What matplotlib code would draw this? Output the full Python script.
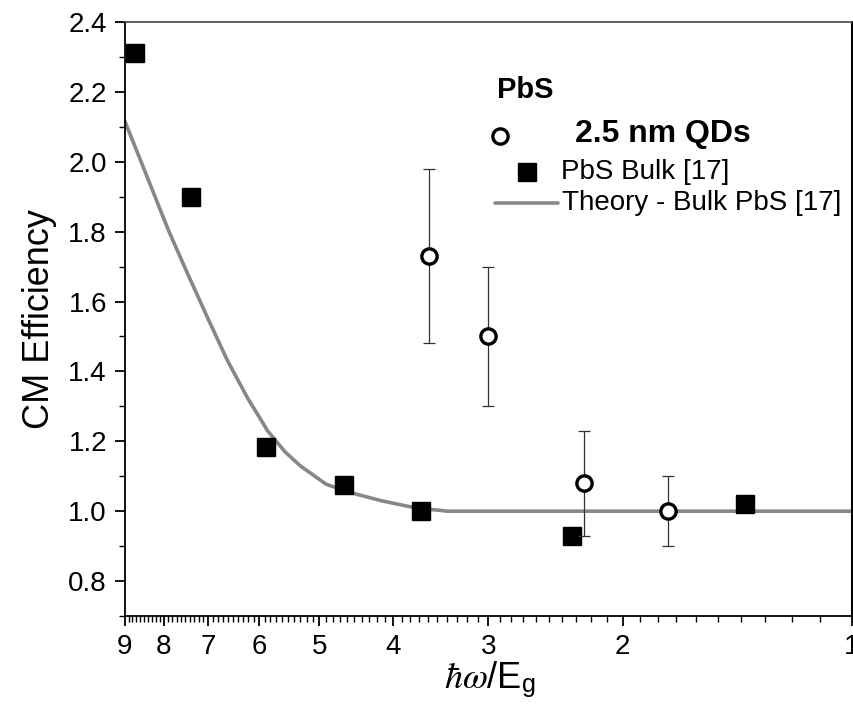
"""CM efficiency de PbS: QDs 2.5 nm vs bulk e teoria (eixo x log invertido)."""
import matplotlib

matplotlib.use("Agg")
import matplotlib.pyplot as plt
import numpy as np
from matplotlib.lines import Line2D
from matplotlib.ticker import FixedLocator, FixedFormatter, NullFormatter

plt.rcParams["font.family"] = ["Liberation Sans", "DejaVu Sans"]
plt.rcParams["mathtext.fontset"] = "stix"

# dados
qd_x = [3.59, 3.0, 2.25, 1.745]
qd_y = [1.73, 1.50, 1.08, 1.00]
qd_err = [0.25, 0.20, 0.15, 0.10]

bulk_x = [8.73, 7.38, 5.88, 4.64, 3.68, 2.33, 1.38]
bulk_y = [2.31, 1.90, 1.185, 1.075, 1.00, 0.93, 1.02]

teoria_x = [9.0, 8.5, 7.9, 7.45, 7.0, 6.6, 6.2, 6.0, 5.85, 5.55, 5.3, 4.9, 4.55,
            4.15, 3.75, 3.4, 1.0]
teoria_y = [2.115, 1.98, 1.806, 1.68, 1.55, 1.43, 1.32, 1.27, 1.23, 1.17, 1.13,
            1.077, 1.053, 1.03, 1.01, 1.0, 1.0]

major_x = [9, 8, 7, 6, 5, 4, 3, 2, 1]

fig = plt.figure(figsize=(8.54, 7.07), dpi=100)
ax = fig.add_axes([125 / 854, 1 - 616 / 707, 727 / 854, 594 / 707])

ax.plot(teoria_x, teoria_y, color="#878787", lw=2.6, solid_capstyle="round",
        solid_joinstyle="round", zorder=2)
ax.plot(bulk_x, bulk_y, ls="none", marker="s", ms=12.5, color="black", zorder=3)
ax.errorbar(qd_x, qd_y, yerr=qd_err, fmt="none", ecolor="#333333", elinewidth=0.9,
            capsize=4.5, capthick=0.9, zorder=3)
ax.plot(qd_x, qd_y, ls="none", marker="o", ms=11, mfc="white", mec="black", mew=2.4,
        zorder=4)

ax.set_xscale("log")
ax.set_xlim(9, 1)
ax.xaxis.set_major_locator(FixedLocator(major_x))
ax.xaxis.set_major_formatter(FixedFormatter([str(v) for v in major_x]))
minors = [v for v in np.round(np.arange(1.1, 9.0, 0.1), 1) if v % 1 != 0]
ax.xaxis.set_minor_locator(FixedLocator(minors))
ax.xaxis.set_minor_formatter(NullFormatter())

ax.set_ylim(0.7, 2.4)
ax.set_yticks(np.arange(0.8, 2.41, 0.2))
ax.set_yticklabels([f"{v:.1f}" for v in np.arange(0.8, 2.41, 0.2)])
ax.set_yticks(np.arange(0.7, 2.41, 0.1), minor=True)

ax.tick_params(which="major", direction="out", length=7, width=1.3, labelsize=20, pad=6)
ax.tick_params(which="minor", direction="out", length=4, width=1.0)
ax.tick_params(top=False, right=False)
for side in ["left", "bottom"]:
    ax.spines[side].set_linewidth(1.3)
ax.spines["top"].set_linewidth(1.2)
ax.spines["top"].set_color("#444444")
ax.spines["right"].set_linewidth(2.2)

ax.set_ylabel("CM Efficiency", fontsize=26, labelpad=8)
fig.text(490 / 854, 1 - 680 / 707, r"$\hbar\omega$/E$_\mathregular{g}$", fontsize=26,
         ha="center", va="center")

# legenda manual (como no Origin)
def fx(px):
    return px / 854


def fy(py):
    return 1 - py / 707


fig.text(fx(497), fy(90), "PbS", fontsize=21, fontweight="bold", va="center")
fig.add_artist(Line2D([fx(500)], [fy(136)], transform=fig.transFigure, marker="o", ms=11,
                      mfc="white", mec="black", mew=2.4, ls="none"))
fig.text(fx(575), fy(134), "2.5 nm QDs", fontsize=23, fontweight="bold", va="center")
fig.add_artist(Line2D([fx(527)], [fy(172)], transform=fig.transFigure, marker="s", ms=12.5,
                      color="black", ls="none"))
fig.text(fx(561), fy(172), "PbS Bulk [17]", fontsize=20, va="center")
fig.add_artist(Line2D([fx(495), fx(558)], [fy(203), fy(203)], transform=fig.transFigure,
                      color="#878787", lw=2.6, solid_capstyle="round"))
fig.text(fx(562), fy(203), "Theory - Bulk PbS [17]", fontsize=20, va="center")

fig.savefig("out.png", dpi=100)
